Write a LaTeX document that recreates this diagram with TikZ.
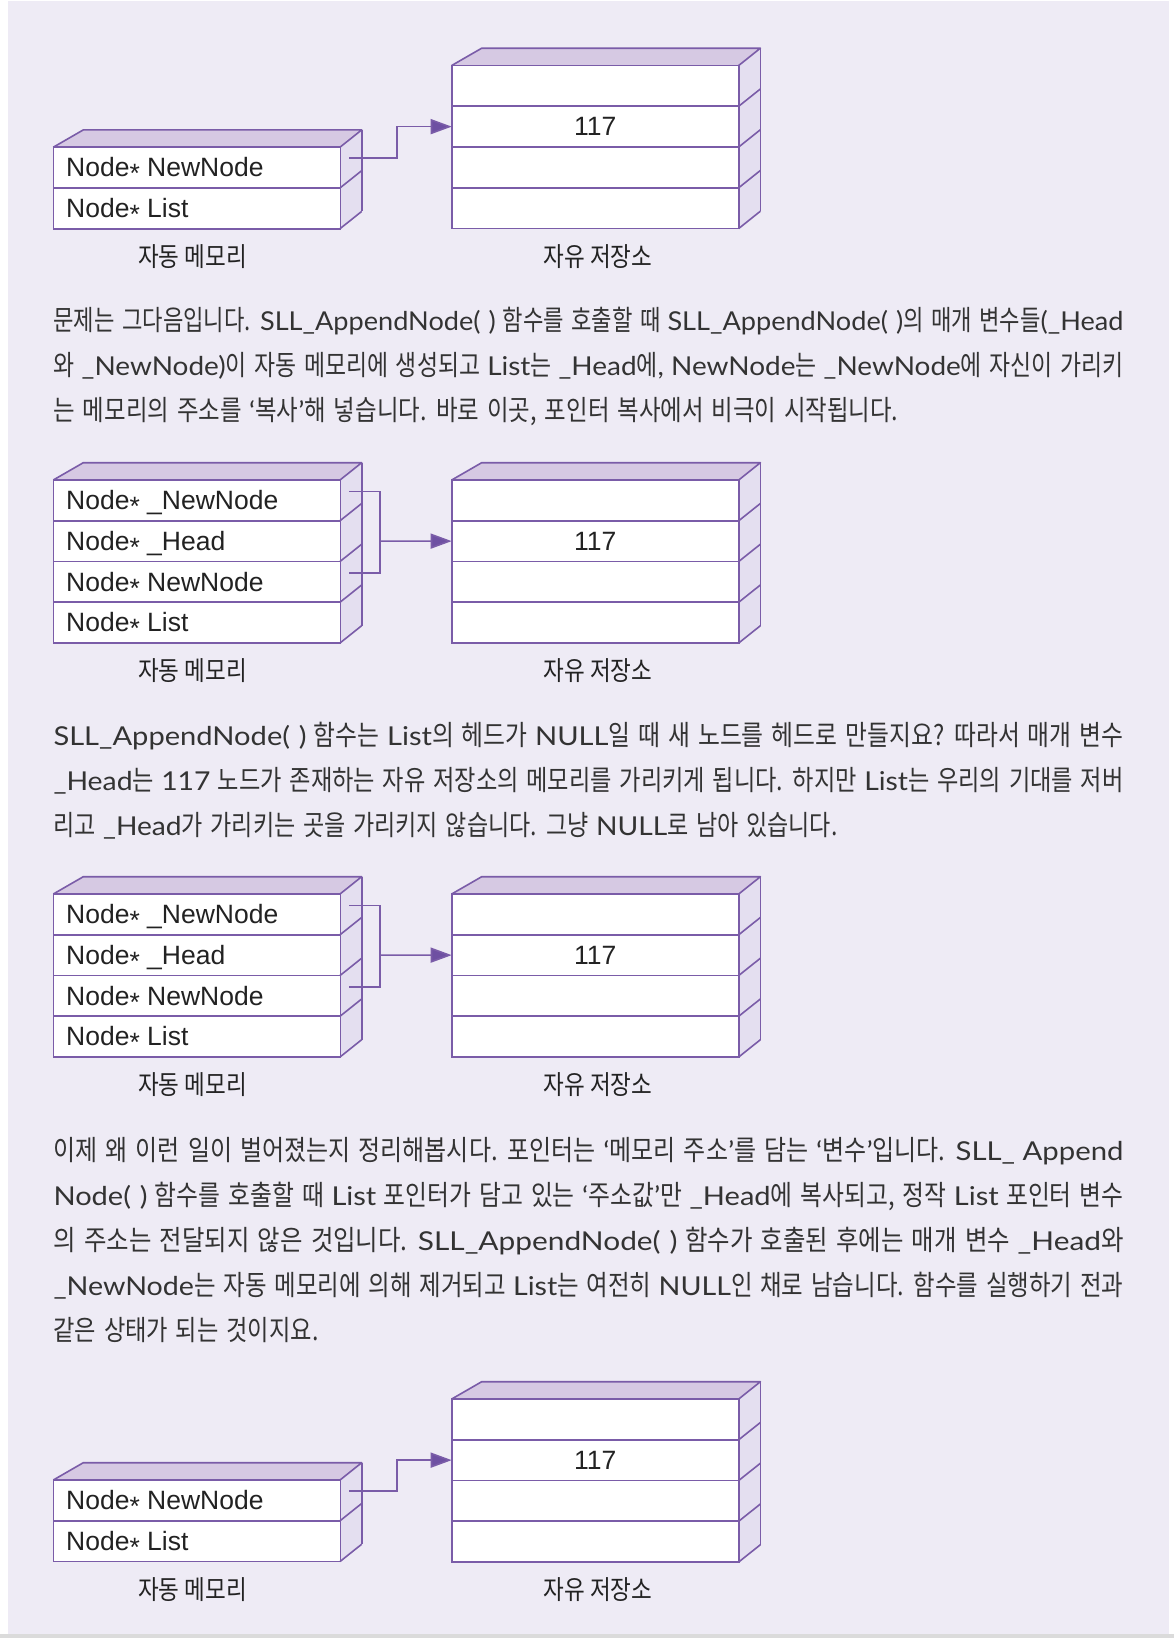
\documentclass[tikz,border=0pt]{standalone}
\usepackage{fontspec}
\usepackage{graphicx}
\usetikzlibrary{arrows.meta}
\newfontfamily\rowf{Liberation Sans}
\newfontfamily\latf{Lato}
\newfontfamily\korf[FakeStretch=0.76,WordSpace=1.5]{Noto Sans CJK KR}
\newfontfamily\labf[FakeStretch=0.85]{Noto Sans CJK KR}
\definecolor{bgc}{HTML}{EEEBF5}
\definecolor{edgec}{HTML}{7A5CA8}
\definecolor{topc}{HTML}{D6C9E3}
\definecolor{sidec}{HTML}{E4DFF0}
\definecolor{arrc}{HTML}{6E50A2}
\definecolor{txtc}{HTML}{333333}
\definecolor{rowc}{HTML}{222222}
\newcommand\K[1]{{\korf\fontsize{28pt}{30pt}\selectfont #1}}
\newsavebox\jlbox
\newcommand\jline[2]{\sbox\jlbox{\latf\fontsize{26pt}{30pt}\selectfont #2}\resizebox{#1}{\ht\jlbox}{\usebox\jlbox}}
\newcommand\nodeptr{Node\raisebox{-0.22em}{*}}
\newcommand\pp{(\hspace{0.3em})}
\tikzset{
  cell/.style={draw=edgec, fill=white, line width=1.6pt, minimum width=287pt, minimum height=40.75pt, inner sep=0pt, outer sep=0pt},
  edge/.style={draw=edgec, line width=1.6pt, line join=round},
  rowtext/.style={inner sep=0pt, text=rowc, font=\rowf\fontsize{26.5pt}{28pt}\selectfont},
  numtext/.style={inner sep=0pt, text=rowc, font=\rowf\fontsize{26.5pt}{28pt}\selectfont},
  lab/.style={inner sep=0pt, text=rowc, font=\labf\fontsize{26.5pt}{28pt}\selectfont},
  para/.style={inner sep=0pt, text=txtc, anchor=base west},
  conn/.style={draw=edgec, line width=1.6pt},
  arr/.style={conn, -{Triangle[length=21pt,width=15pt,fill=arrc]}},
}
% #1 name, #2 x0, #3 x1, #4 ytop, #5 nrows, #6 texts
\newcommand\memcol[6]{%
  \pgfmathsetmacro\mbybot{#4+#5*40.75}
  \fill[topc] (#2,#4) -- (#2+30,#4-17.3) -- (#3+21.7,#4-17.3) -- (#3,#4) -- cycle;
  \fill[sidec] (#3,#4) -- (#3+21.7,#4-17.3) -- (#3+21.7,\mbybot-17.3) -- (#3,\mbybot) -- cycle;
  \foreach \rt [count=\i] in {#6} {
    \node[cell, anchor=north west] (#1-\i) at (#2,{#4+(\i-1)*40.75}) {};
    \ifx\rt\empty\else
      \node[rowtext, anchor=base west] (#1-t\i) at (#2+12.7,{#4+(\i-0.5)*40.75+9.3}) {\rt};
    \fi
    \draw[edge] (#3,{#4+\i*40.75}) -- ++(21.7,-17.3);
  }
  \draw[edge] (#2,#4) -- (#2+30,#4-17.3) -- (#3+21.7,#4-17.3) -- (#3,#4);
  \draw[edge] (#3+21.7,#4-17.3) -- (#3+21.7,\mbybot-17.3);
}
\begin{document}
\begin{tikzpicture}[x=1pt,y=-1pt]
\useasboundingbox (0,0) rectangle (1174,1638);
\fill[white] (0,0) rectangle (1174,1638);
\fill[bgc] (8,1) rectangle (1169,1634);
\fill[black!14] (0,1634) rectangle (1174,1638);

% ---------- Diagram 1 ----------
\memcol{d1L}{53.3}{340}{147.2}{2}{\nodeptr{} NewNode,\nodeptr{} List}
\memcol{d1R}{451.7}{738.7}{65.5}{4}{{},{},{},{}}
\node[numtext] (d1v) at (d1R-2.center) {117};
\coordinate (d1s) at (349.3,158.1);
\coordinate (d1b) at (396.7,158.1);
\draw[arr] (d1s) -- (d1b) |- (d1R-2.west);
\node[lab] (d1lL) at (192.5,256.7) {자동 메모리};
\node[lab] (d1lR) at (598,256.7) {자유 저장소};

% ---------- Paragraph 1 ----------
\node[para] (p1a) at (53.3,330) {\jline{1070pt}{\K{문제는 그다음입니다.} SLL\_AppendNode\pp{} \K{함수를 호출할 때} SLL\_AppendNode\pp\K{의 매개 변수들}(\_Head}};
\node[para] (p1b) at (53.3,375) {\jline{1070pt}{\K{와} \_NewNode)\K{이 자동 메모리에 생성되고} List\K{는} \_Head\K{에}, NewNode\K{는} \_NewNode\K{에 자신이 가리키}}};
\node[para] (p1c) at (53.3,420) {\jline{845pt}{\K{는 메모리의 주소를} ‘\K{복사}’\K{해 넣습니다. 바로 이곳, 포인터 복사에서 비극이 시작됩니다.}}};

% ---------- Diagram 2 ----------
\memcol{d2L}{53.3}{340}{480}{4}{\nodeptr{} \_NewNode,\nodeptr{} \_Head,\nodeptr{} NewNode,\nodeptr{} List}
\memcol{d2R}{451.7}{738.7}{480}{4}{{},{},{},{}}
\node[numtext] (d2v) at (d2R-2.center) {117};
\coordinate (d2s1) at (349.3,491.4);
\coordinate (d2s3) at (349.3,572.9);
\coordinate (d2b1) at (380,491.4);
\coordinate (d2b3) at (380,572.9);
\coordinate (d2j) at (380,541.1);
\draw[conn] (d2s1) -- (d2b1) -- (d2b3) -- (d2s3);
\draw[arr] (d2j) -- (d2R-2.west);
\node[lab] (d2lL) at (192.5,671) {자동 메모리};
\node[lab] (d2lR) at (598,671) {자유 저장소};

% ---------- Paragraph 2 ----------
\node[para] (p2a) at (53.3,745) {\jline{1070pt}{SLL\_AppendNode\pp{} \K{함수는} List\K{의 헤드가} NULL\K{일 때 새 노드를 헤드로 만들지요? 따라서 매개 변수}}};
\node[para] (p2b) at (53.3,790) {\jline{1070pt}{\_Head\K{는} 117 \K{노드가 존재하는 자유 저장소의 메모리를 가리키게 됩니다. 하지만} List\K{는 우리의 기대를 저버}}};
\node[para] (p2c) at (53.3,835) {\jline{784pt}{\K{리고} \_Head\K{가 가리키는 곳을 가리키지 않습니다. 그냥} NULL\K{로 남아 있습니다.}}};

% ---------- Diagram 3 ----------
\memcol{d3L}{53.3}{340}{894}{4}{\nodeptr{} \_NewNode,\nodeptr{} \_Head,\nodeptr{} NewNode,\nodeptr{} List}
\memcol{d3R}{451.7}{738.7}{894}{4}{{},{},{},{}}
\node[numtext] (d3v) at (d3R-2.center) {117};
\coordinate (d3s1) at (349.3,905.4);
\coordinate (d3s3) at (349.3,986.9);
\coordinate (d3b1) at (380,905.4);
\coordinate (d3b3) at (380,986.9);
\coordinate (d3j) at (380,955.1);
\draw[conn] (d3s1) -- (d3b1) -- (d3b3) -- (d3s3);
\draw[arr] (d3j) -- (d3R-2.west);
\node[lab] (d3lL) at (192.5,1085) {자동 메모리};
\node[lab] (d3lR) at (598,1085) {자유 저장소};

% ---------- Paragraph 3 ----------
\node[para] (p3a) at (53.3,1160) {\jline{1070pt}{\K{이제 왜 이런 일이 벌어졌는지 정리해봅시다. 포인터는} ‘\K{메모리 주소}’\K{를 담는} ‘\K{변수}’\K{입니다.} SLL\_ Append}};
\node[para] (p3b) at (53.3,1205) {\jline{1070pt}{Node\pp{} \K{함수를 호출할 때} List \K{포인터가 담고 있는} ‘\K{주소값}’\K{만} \_Head\K{에 복사되고, 정작} List \K{포인터 변수}}};
\node[para] (p3c) at (53.3,1250) {\jline{1070pt}{\K{의 주소는 전달되지 않은 것입니다.} SLL\_AppendNode\pp{} \K{함수가 호출된 후에는 매개 변수} \_Head\K{와}}};
\node[para] (p3d) at (53.3,1295) {\jline{1070pt}{\_NewNode\K{는 자동 메모리에 의해 제거되고} List\K{는 여전히} NULL\K{인 채로 남습니다. 함수를 실행하기 전과}}};
\node[para] (p3e) at (53.3,1340) {\jline{265pt}{\K{같은 상태가 되는 것이지요.}}};

% ---------- Diagram 4 ----------
\memcol{d4L}{53.3}{340}{1480}{2}{\nodeptr{} NewNode,\nodeptr{} List}
\memcol{d4R}{451.7}{738.7}{1399}{4}{{},{},{},{}}
\node[numtext] (d4v) at (d4R-2.center) {117};
\coordinate (d4s) at (349.3,1490.9);
\coordinate (d4b) at (396.7,1490.9);
\draw[arr] (d4s) -- (d4b) |- (d4R-2.west);
\node[lab] (d4lL) at (192.5,1590) {자동 메모리};
\node[lab] (d4lR) at (598,1590) {자유 저장소};
\end{tikzpicture}
\end{document}
